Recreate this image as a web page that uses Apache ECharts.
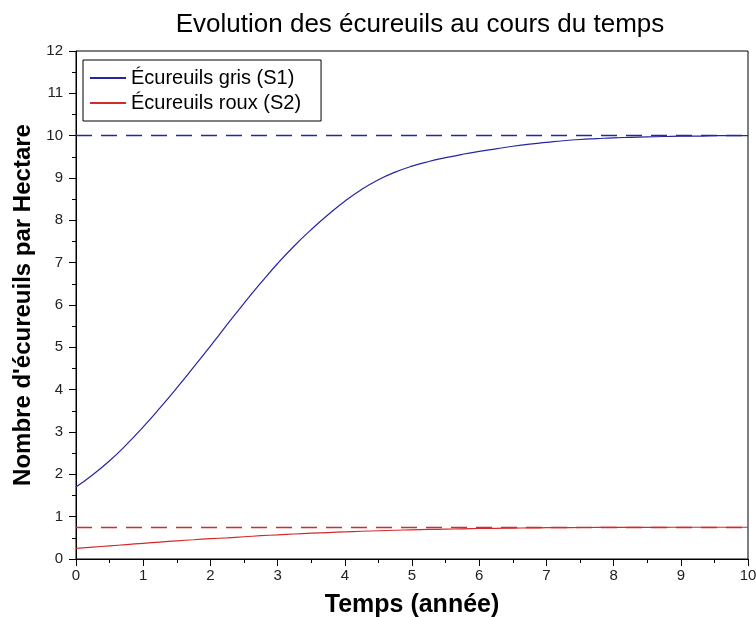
<!DOCTYPE html>
<html>
<head>
<meta charset="utf-8">
<script src="https://cdn.jsdelivr.net/npm/echarts@6/dist/echarts.min.js"></script>
<style>html,body{margin:0;padding:0;background:#fff}#c{width:756px;height:617px}</style>
</head>
<body>
<div id="c"></div>
<script>
var titleText = "Evolution des écureuils au cours du temps";
var xName = "Temps (année)";
var yName = "Nombre d'écureuils par Hectare";
var seriesNames = ["Écureuils gris (S1)", "Écureuils roux (S2)"];
var t = [0,0.25,0.5,0.75,1,1.25,1.5,1.75,2,2.25,2.5,2.75,3,3.25,3.5,3.75,4,4.25,4.5,4.75,5,5.25,5.5,5.75,6,6.25,6.5,6.75,7,7.25,7.5,7.75,8,8.25,8.5,8.75,9,9.25,9.5,9.75,10];
var gris = [1.70,1.99,2.32,2.70,3.12,3.57,4.04,4.53,5.03,5.54,6.04,6.52,6.98,7.40,7.78,8.13,8.45,8.73,8.96,9.14,9.28,9.39,9.48,9.56,9.63,9.69,9.75,9.80,9.84,9.88,9.91,9.93,9.95,9.96,9.97,9.98,9.99,9.99,10.0,10.0,10.0];
var roux = [0.25,0.28,0.31,0.34,0.37,0.40,0.43,0.455,0.48,0.50,0.525,0.55,0.57,0.59,0.61,0.625,0.64,0.655,0.667,0.679,0.69,0.698,0.705,0.713,0.72,0.725,0.73,0.735,0.739,0.742,0.744,0.745,0.746,0.747,0.748,0.749,0.75,0.75,0.75,0.75,0.75];
var equilibria = [10, 0.75];
var xTicks = [0,1,2,3,4,5,6,7,8,9,10];
var yTicks = [0,1,2,3,4,5,6,7,8,9,10,11,12];

function pairs(xs, ys){ return xs.map(function(x,i){ return [x, ys[i]]; }); }
var blue = '#2626a2', red = '#d42a2a';
var FONT = '"Liberation Sans", Arial, sans-serif';

var chart = echarts.init(document.getElementById('c'));
chart.setOption({
  animation: false,
  backgroundColor: '#fff',
  textStyle: { fontFamily: FONT },
  title: {
    text: titleText, left: 415, top: 7, textAlign: 'center',
    textStyle: { fontFamily: FONT, fontSize: 26, fontWeight: 'normal', color: '#000' }
  },
  grid: { left: 76, right: 8, top: 51, bottom: 58, show: true, borderColor: '#000', borderWidth: 1, backgroundColor: 'transparent', outerBoundsMode: 'none', containLabel: false },
  legend: {
    orient: 'vertical', left: 83, top: 60,
    backgroundColor: '#fff', borderColor: '#000', borderWidth: 1, borderRadius: 0,
    padding: [8, 20, 8, 6], itemGap: 5, itemWidth: 36, itemHeight: 2,
    textStyle: { fontFamily: FONT, fontSize: 20, color: '#000' },
    data: seriesNames
  },
  xAxis: {
    type: 'value', min: xTicks[0], max: xTicks[xTicks.length-1], interval: 1,
    name: xName, nameLocation: 'middle', nameGap: 34,
    nameTextStyle: { fontFamily: FONT, fontSize: 25, fontWeight: 'bold', color: '#000' },
    axisLine: { show: true, lineStyle: { color: '#000', width: 1 } },
    axisTick: { show: true, inside: false, length: 7, lineStyle: { color: '#000' } },
    minorTick: { show: true, splitNumber: 2, length: 4, lineStyle: { color: '#000' } },
    axisLabel: { fontFamily: FONT, fontSize: 15, color: '#222', margin: 9 },
    splitLine: { show: false }
  },
  yAxis: {
    type: 'value', min: yTicks[0], max: yTicks[yTicks.length-1], interval: 1,
    name: yName, nameLocation: 'middle', nameGap: 37, nameRotate: 90,
    nameTextStyle: { fontFamily: FONT, fontSize: 24, fontWeight: 'bold', color: '#000' },
    axisLine: { show: true, lineStyle: { color: '#000', width: 1 } },
    axisTick: { show: true, inside: false, length: 7, lineStyle: { color: '#000' } },
    minorTick: { show: true, splitNumber: 2, length: 4, lineStyle: { color: '#000' } },
    axisLabel: { fontFamily: FONT, fontSize: 15, color: '#222', margin: 13 },
    splitLine: { show: false }
  },
  series: [
    {
      name: seriesNames[0], type: 'line', data: pairs(t, gris), symbol: 'none', smooth: 0.5,
      lineStyle: { color: blue, width: 1.2 }, itemStyle: { color: blue },
      markLine: { silent: true, symbol: 'none', label: { show: false },
        lineStyle: { color: blue, type: [16, 9], width: 1.4 },
        data: [{ yAxis: equilibria[0] }] }
    },
    {
      name: seriesNames[1], type: 'line', data: pairs(t, roux), symbol: 'none', smooth: 0.5,
      lineStyle: { color: red, width: 1.2 }, itemStyle: { color: red },
      markLine: { silent: true, symbol: 'none', label: { show: false },
        lineStyle: { color: red, type: [16, 9], width: 1.4 },
        data: [{ yAxis: equilibria[1] }] }
    }
  ]
});
</script>
</body>
</html>
